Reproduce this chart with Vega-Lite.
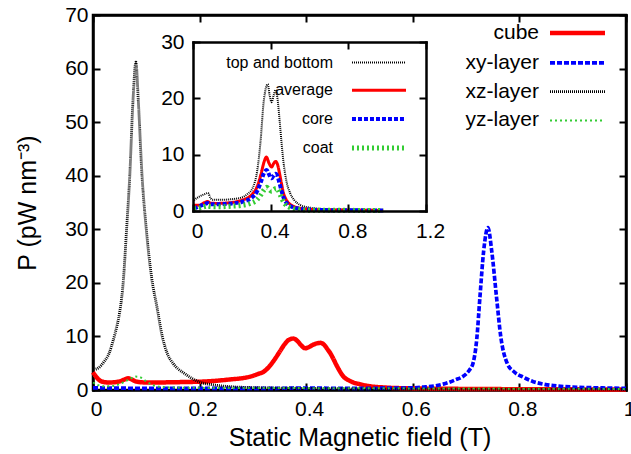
{
  "$schema": "https://vega.github.io/schema/vega-lite/v6.json",
  "width": 533,
  "height": 375,
  "autosize": {"type": "none"},
  "padding": {"left": 93, "top": 15, "right": 5, "bottom": 64},
  "background": "white",
  "config": {
    "font": "Liberation Sans",
    "view": {"stroke": "black", "strokeWidth": 2.5},
    "axis": {
      "domainColor": "black", "domainWidth": 2.5, "domainCap": "square",
      "tickColor": "black", "tickWidth": 2, "tickSize": -7,
      "grid": false,
      "labelFont": "Liberation Sans", "labelFontSize": 21, "labelColor": "black",
      "titleFont": "Liberation Sans", "titleFontSize": 25, "titleColor": "black", "titleFontWeight": "normal",
      "labelFlush": false, "labelOverlap": false
    },
    "legend": {"labelFont": "Liberation Sans", "labelColor": "black"}
  },
  "datasets": {
    "main": [
      {"series": "cube", "B": 0.000, "P": 3.3},
      {"series": "cube", "B": 0.005, "P": 2.6},
      {"series": "cube", "B": 0.010, "P": 2.0},
      {"series": "cube", "B": 0.020, "P": 1.5},
      {"series": "cube", "B": 0.030, "P": 1.4},
      {"series": "cube", "B": 0.040, "P": 1.45},
      {"series": "cube", "B": 0.050, "P": 1.6},
      {"series": "cube", "B": 0.060, "P": 2.0},
      {"series": "cube", "B": 0.066, "P": 2.2},
      {"series": "cube", "B": 0.072, "P": 2.0},
      {"series": "cube", "B": 0.080, "P": 1.6},
      {"series": "cube", "B": 0.090, "P": 1.45},
      {"series": "cube", "B": 0.100, "P": 1.4},
      {"series": "cube", "B": 0.120, "P": 1.4},
      {"series": "cube", "B": 0.150, "P": 1.45},
      {"series": "cube", "B": 0.180, "P": 1.5},
      {"series": "cube", "B": 0.200, "P": 1.55},
      {"series": "cube", "B": 0.220, "P": 1.65},
      {"series": "cube", "B": 0.240, "P": 1.8},
      {"series": "cube", "B": 0.260, "P": 2.0},
      {"series": "cube", "B": 0.280, "P": 2.2},
      {"series": "cube", "B": 0.295, "P": 2.5},
      {"series": "cube", "B": 0.310, "P": 3.0},
      {"series": "cube", "B": 0.320, "P": 3.4},
      {"series": "cube", "B": 0.330, "P": 4.3},
      {"series": "cube", "B": 0.340, "P": 5.6},
      {"series": "cube", "B": 0.350, "P": 7.1},
      {"series": "cube", "B": 0.360, "P": 8.6},
      {"series": "cube", "B": 0.368, "P": 9.4},
      {"series": "cube", "B": 0.376, "P": 9.6},
      {"series": "cube", "B": 0.383, "P": 9.2},
      {"series": "cube", "B": 0.390, "P": 8.4},
      {"series": "cube", "B": 0.398, "P": 7.8},
      {"series": "cube", "B": 0.405, "P": 8.0},
      {"series": "cube", "B": 0.412, "P": 8.4},
      {"series": "cube", "B": 0.420, "P": 8.7},
      {"series": "cube", "B": 0.427, "P": 8.8},
      {"series": "cube", "B": 0.434, "P": 8.4},
      {"series": "cube", "B": 0.440, "P": 7.6},
      {"series": "cube", "B": 0.445, "P": 6.9},
      {"series": "cube", "B": 0.450, "P": 6.0},
      {"series": "cube", "B": 0.457, "P": 4.6},
      {"series": "cube", "B": 0.465, "P": 3.2},
      {"series": "cube", "B": 0.470, "P": 2.5},
      {"series": "cube", "B": 0.480, "P": 1.8},
      {"series": "cube", "B": 0.490, "P": 1.35},
      {"series": "cube", "B": 0.500, "P": 1.1},
      {"series": "cube", "B": 0.520, "P": 0.7},
      {"series": "cube", "B": 0.550, "P": 0.45},
      {"series": "cube", "B": 0.600, "P": 0.3},
      {"series": "cube", "B": 0.700, "P": 0.2},
      {"series": "cube", "B": 0.800, "P": 0.15},
      {"series": "cube", "B": 0.900, "P": 0.12},
      {"series": "cube", "B": 1.000, "P": 0.1},

      {"series": "xy-layer", "B": 0.00, "P": 0.4},
      {"series": "xy-layer", "B": 0.05, "P": 0.35},
      {"series": "xy-layer", "B": 0.10, "P": 0.3},
      {"series": "xy-layer", "B": 0.20, "P": 0.3},
      {"series": "xy-layer", "B": 0.30, "P": 0.3},
      {"series": "xy-layer", "B": 0.40, "P": 0.35},
      {"series": "xy-layer", "B": 0.50, "P": 0.3},
      {"series": "xy-layer", "B": 0.55, "P": 0.35},
      {"series": "xy-layer", "B": 0.60, "P": 0.4},
      {"series": "xy-layer", "B": 0.62, "P": 0.55},
      {"series": "xy-layer", "B": 0.64, "P": 0.75},
      {"series": "xy-layer", "B": 0.657, "P": 1.1},
      {"series": "xy-layer", "B": 0.67, "P": 1.5},
      {"series": "xy-layer", "B": 0.68, "P": 1.9},
      {"series": "xy-layer", "B": 0.692, "P": 2.4},
      {"series": "xy-layer", "B": 0.70, "P": 3.0},
      {"series": "xy-layer", "B": 0.706, "P": 3.7},
      {"series": "xy-layer", "B": 0.713, "P": 5.0},
      {"series": "xy-layer", "B": 0.720, "P": 9.5},
      {"series": "xy-layer", "B": 0.726, "P": 17.4},
      {"series": "xy-layer", "B": 0.733, "P": 26.0},
      {"series": "xy-layer", "B": 0.741, "P": 30.3},
      {"series": "xy-layer", "B": 0.748, "P": 26.0},
      {"series": "xy-layer", "B": 0.757, "P": 17.4},
      {"series": "xy-layer", "B": 0.765, "P": 10.0},
      {"series": "xy-layer", "B": 0.777, "P": 5.0},
      {"series": "xy-layer", "B": 0.790, "P": 3.4},
      {"series": "xy-layer", "B": 0.807, "P": 2.4},
      {"series": "xy-layer", "B": 0.825, "P": 1.6},
      {"series": "xy-layer", "B": 0.845, "P": 1.1},
      {"series": "xy-layer", "B": 0.870, "P": 0.75},
      {"series": "xy-layer", "B": 0.900, "P": 0.55},
      {"series": "xy-layer", "B": 0.950, "P": 0.4},
      {"series": "xy-layer", "B": 1.000, "P": 0.3},

      {"series": "xz-layer", "B": 0.005, "P": 3.9},
      {"series": "xz-layer", "B": 0.010, "P": 4.1},
      {"series": "xz-layer", "B": 0.020, "P": 5.2},
      {"series": "xz-layer", "B": 0.030, "P": 6.8},
      {"series": "xz-layer", "B": 0.038, "P": 9.3},
      {"series": "xz-layer", "B": 0.045, "P": 12.0},
      {"series": "xz-layer", "B": 0.050, "P": 14.5},
      {"series": "xz-layer", "B": 0.057, "P": 20.5},
      {"series": "xz-layer", "B": 0.063, "P": 30.0},
      {"series": "xz-layer", "B": 0.069, "P": 40.0},
      {"series": "xz-layer", "B": 0.075, "P": 54.0},
      {"series": "xz-layer", "B": 0.0805, "P": 61.2},
      {"series": "xz-layer", "B": 0.085, "P": 54.0},
      {"series": "xz-layer", "B": 0.092, "P": 40.0},
      {"series": "xz-layer", "B": 0.100, "P": 30.0},
      {"series": "xz-layer", "B": 0.110, "P": 21.0},
      {"series": "xz-layer", "B": 0.120, "P": 15.5},
      {"series": "xz-layer", "B": 0.130, "P": 10.0},
      {"series": "xz-layer", "B": 0.139, "P": 6.9},
      {"series": "xz-layer", "B": 0.150, "P": 5.0},
      {"series": "xz-layer", "B": 0.160, "P": 3.9},
      {"series": "xz-layer", "B": 0.170, "P": 3.2},
      {"series": "xz-layer", "B": 0.185, "P": 2.2},
      {"series": "xz-layer", "B": 0.200, "P": 1.5},
      {"series": "xz-layer", "B": 0.230, "P": 0.9},
      {"series": "xz-layer", "B": 0.260, "P": 0.6},
      {"series": "xz-layer", "B": 0.300, "P": 0.45},
      {"series": "xz-layer", "B": 0.400, "P": 0.3},
      {"series": "xz-layer", "B": 0.500, "P": 0.2},
      {"series": "xz-layer", "B": 0.600, "P": 0.15},
      {"series": "xz-layer", "B": 0.800, "P": 0.12},
      {"series": "xz-layer", "B": 1.000, "P": 0.1},

      {"series": "yz-layer", "B": 0.000, "P": 1.4},
      {"series": "yz-layer", "B": 0.010, "P": 0.9},
      {"series": "yz-layer", "B": 0.020, "P": 0.7},
      {"series": "yz-layer", "B": 0.030, "P": 0.7},
      {"series": "yz-layer", "B": 0.040, "P": 0.8},
      {"series": "yz-layer", "B": 0.050, "P": 1.1},
      {"series": "yz-layer", "B": 0.060, "P": 1.6},
      {"series": "yz-layer", "B": 0.070, "P": 2.1},
      {"series": "yz-layer", "B": 0.080, "P": 2.5},
      {"series": "yz-layer", "B": 0.088, "P": 2.4},
      {"series": "yz-layer", "B": 0.095, "P": 2.0},
      {"series": "yz-layer", "B": 0.100, "P": 1.6},
      {"series": "yz-layer", "B": 0.110, "P": 1.0},
      {"series": "yz-layer", "B": 0.120, "P": 0.7},
      {"series": "yz-layer", "B": 0.140, "P": 0.5},
      {"series": "yz-layer", "B": 0.200, "P": 0.4},
      {"series": "yz-layer", "B": 0.400, "P": 0.35},
      {"series": "yz-layer", "B": 0.600, "P": 0.3},
      {"series": "yz-layer", "B": 0.800, "P": 0.25},
      {"series": "yz-layer", "B": 1.000, "P": 0.2}
    ],
    "inset": [
      {"series": "top and bottom", "B": 0.005, "P": 1.9},
      {"series": "top and bottom", "B": 0.02, "P": 2.3},
      {"series": "top and bottom", "B": 0.04, "P": 2.7},
      {"series": "top and bottom", "B": 0.06, "P": 3.0},
      {"series": "top and bottom", "B": 0.077, "P": 3.2},
      {"series": "top and bottom", "B": 0.09, "P": 2.3},
      {"series": "top and bottom", "B": 0.10, "P": 2.0},
      {"series": "top and bottom", "B": 0.15, "P": 2.0},
      {"series": "top and bottom", "B": 0.20, "P": 2.1},
      {"series": "top and bottom", "B": 0.25, "P": 2.4},
      {"series": "top and bottom", "B": 0.28, "P": 3.0},
      {"series": "top and bottom", "B": 0.31, "P": 4.3},
      {"series": "top and bottom", "B": 0.33, "P": 7.0},
      {"series": "top and bottom", "B": 0.347, "P": 12.0},
      {"series": "top and bottom", "B": 0.365, "P": 19.7},
      {"series": "top and bottom", "B": 0.385, "P": 22.5},
      {"series": "top and bottom", "B": 0.395, "P": 20.5},
      {"series": "top and bottom", "B": 0.405, "P": 19.3},
      {"series": "top and bottom", "B": 0.415, "P": 20.5},
      {"series": "top and bottom", "B": 0.425, "P": 21.5},
      {"series": "top and bottom", "B": 0.435, "P": 20.0},
      {"series": "top and bottom", "B": 0.445, "P": 16.5},
      {"series": "top and bottom", "B": 0.455, "P": 12.5},
      {"series": "top and bottom", "B": 0.465, "P": 9.0},
      {"series": "top and bottom", "B": 0.48, "P": 5.5},
      {"series": "top and bottom", "B": 0.50, "P": 3.2},
      {"series": "top and bottom", "B": 0.52, "P": 2.0},
      {"series": "top and bottom", "B": 0.55, "P": 1.1},
      {"series": "top and bottom", "B": 0.60, "P": 0.6},
      {"series": "top and bottom", "B": 0.65, "P": 0.4},
      {"series": "top and bottom", "B": 0.70, "P": 0.3},
      {"series": "top and bottom", "B": 0.80, "P": 0.25},
      {"series": "top and bottom", "B": 0.90, "P": 0.2},
      {"series": "top and bottom", "B": 0.98, "P": 0.2},

      {"series": "average", "B": 0.005, "P": 1.0},
      {"series": "average", "B": 0.03, "P": 1.0},
      {"series": "average", "B": 0.06, "P": 1.5},
      {"series": "average", "B": 0.075, "P": 1.7},
      {"series": "average", "B": 0.09, "P": 1.4},
      {"series": "average", "B": 0.12, "P": 1.35},
      {"series": "average", "B": 0.20, "P": 1.5},
      {"series": "average", "B": 0.25, "P": 1.9},
      {"series": "average", "B": 0.30, "P": 2.8},
      {"series": "average", "B": 0.33, "P": 4.3},
      {"series": "average", "B": 0.35, "P": 6.5},
      {"series": "average", "B": 0.365, "P": 8.6},
      {"series": "average", "B": 0.378, "P": 9.6},
      {"series": "average", "B": 0.39, "P": 8.6},
      {"series": "average", "B": 0.405, "P": 7.8},
      {"series": "average", "B": 0.415, "P": 8.4},
      {"series": "average", "B": 0.425, "P": 8.8},
      {"series": "average", "B": 0.435, "P": 8.3},
      {"series": "average", "B": 0.445, "P": 6.8},
      {"series": "average", "B": 0.455, "P": 5.0},
      {"series": "average", "B": 0.465, "P": 3.3},
      {"series": "average", "B": 0.48, "P": 2.0},
      {"series": "average", "B": 0.50, "P": 1.2},
      {"series": "average", "B": 0.55, "P": 0.5},
      {"series": "average", "B": 0.60, "P": 0.3},
      {"series": "average", "B": 0.70, "P": 0.2},
      {"series": "average", "B": 0.80, "P": 0.15},
      {"series": "average", "B": 0.90, "P": 0.12},
      {"series": "average", "B": 0.98, "P": 0.1},

      {"series": "core", "B": 0.005, "P": 0.4},
      {"series": "core", "B": 0.03, "P": 0.8},
      {"series": "core", "B": 0.06, "P": 1.2},
      {"series": "core", "B": 0.075, "P": 1.4},
      {"series": "core", "B": 0.09, "P": 1.2},
      {"series": "core", "B": 0.12, "P": 1.2},
      {"series": "core", "B": 0.20, "P": 1.35},
      {"series": "core", "B": 0.25, "P": 1.6},
      {"series": "core", "B": 0.30, "P": 2.3},
      {"series": "core", "B": 0.33, "P": 3.5},
      {"series": "core", "B": 0.35, "P": 5.2},
      {"series": "core", "B": 0.365, "P": 6.7},
      {"series": "core", "B": 0.38, "P": 7.3},
      {"series": "core", "B": 0.39, "P": 6.6},
      {"series": "core", "B": 0.405, "P": 5.8},
      {"series": "core", "B": 0.415, "P": 6.3},
      {"series": "core", "B": 0.425, "P": 6.6},
      {"series": "core", "B": 0.435, "P": 6.2},
      {"series": "core", "B": 0.445, "P": 5.0},
      {"series": "core", "B": 0.455, "P": 3.7},
      {"series": "core", "B": 0.465, "P": 2.5},
      {"series": "core", "B": 0.48, "P": 1.5},
      {"series": "core", "B": 0.50, "P": 0.9},
      {"series": "core", "B": 0.55, "P": 0.4},
      {"series": "core", "B": 0.60, "P": 0.25},
      {"series": "core", "B": 0.70, "P": 0.15},
      {"series": "core", "B": 0.98, "P": 0.1},

      {"series": "coat", "B": 0.005, "P": 0.4},
      {"series": "coat", "B": 0.03, "P": 0.5},
      {"series": "coat", "B": 0.06, "P": 0.8},
      {"series": "coat", "B": 0.075, "P": 0.9},
      {"series": "coat", "B": 0.09, "P": 0.8},
      {"series": "coat", "B": 0.12, "P": 0.75},
      {"series": "coat", "B": 0.20, "P": 0.85},
      {"series": "coat", "B": 0.25, "P": 1.0},
      {"series": "coat", "B": 0.30, "P": 1.4},
      {"series": "coat", "B": 0.33, "P": 2.0},
      {"series": "coat", "B": 0.35, "P": 2.9},
      {"series": "coat", "B": 0.365, "P": 3.7},
      {"series": "coat", "B": 0.38, "P": 4.2},
      {"series": "coat", "B": 0.39, "P": 3.9},
      {"series": "coat", "B": 0.405, "P": 3.5},
      {"series": "coat", "B": 0.415, "P": 3.8},
      {"series": "coat", "B": 0.43, "P": 4.0},
      {"series": "coat", "B": 0.44, "P": 3.6},
      {"series": "coat", "B": 0.45, "P": 2.8},
      {"series": "coat", "B": 0.46, "P": 2.0},
      {"series": "coat", "B": 0.475, "P": 1.2},
      {"series": "coat", "B": 0.50, "P": 0.6},
      {"series": "coat", "B": 0.55, "P": 0.25},
      {"series": "coat", "B": 0.60, "P": 0.15},
      {"series": "coat", "B": 0.98, "P": 0.1}
    ]
  },
  "layer": [
    {
      "data": {"name": "main"},
      "mark": {"type": "line", "interpolate": "monotone", "strokeJoin": "round"},
      "encoding": {
        "x": {
          "field": "B", "type": "quantitative",
          "scale": {"domain": [0, 1], "nice": false, "zero": false},
          "axis": {"orient": "bottom", "values": [0, 0.2, 0.4, 0.6, 0.8, 1], "format": "~g", "labelPadding": 15, "labelOffset": 3,
                   "title": "Static Magnetic field (T)", "titleBaseline": "alphabetic", "titleY": 55}
        },
        "y": {
          "field": "P", "type": "quantitative",
          "scale": {"domain": [0, 70], "nice": false},
          "axis": {"orient": "left", "values": [0, 10, 20, 30, 40, 50, 60, 70], "labelPadding": 12,
                   "title": "P (pW nm⁻³)", "titleX": -66, "titleY": 187.5, "titleAngle": 270, "titleAlign": "center", "titleBaseline": "middle"}
        },
        "color": {
          "field": "series", "type": "nominal",
          "scale": {"domain": ["cube", "xy-layer", "xz-layer", "yz-layer"], "range": ["#ff0000", "#0000ff", "#000000", "#33cc33"]},
          "legend": {"orient": "none", "legendX": 471, "legendY": 4.5, "title": null, "symbolType": "M-2.5,0H2.5", "symbolSize": 484,
                     "labelAlign": "right", "labelOffset": -52, "rowPadding": 6.3, "labelFontSize": 21, "padding": 0}
        },
        "strokeDash": {
          "field": "series", "type": "nominal",
          "scale": {"domain": ["cube", "xy-layer", "xz-layer", "yz-layer"], "range": [[1, 0], [5, 2], [1, 1], [2, 3]]}
        },
        "strokeWidth": {
          "field": "series", "type": "nominal",
          "scale": {"domain": ["cube", "xy-layer", "xz-layer", "yz-layer"], "range": [4.5, 2, 2, 2]}
        }
      }
    },
    {
      "data": {"name": "main"},
      "mark": {"type": "point", "opacity": 0},
      "encoding": {
        "x": {"field": "B", "type": "quantitative", "scale": {"domain": [0, 1], "nice": false, "zero": false},
              "axis": {"orient": "top", "values": [0, 0.2, 0.4, 0.6, 0.8, 1], "labels": false, "title": null}},
        "y": {"field": "P", "type": "quantitative", "scale": {"domain": [0, 70], "nice": false},
              "axis": {"orient": "right", "values": [0, 10, 20, 30, 40, 50, 60, 70], "labels": false, "title": null}}
      }
    },
    {
      "data": {"name": "inset"},
      "mark": {"type": "line", "interpolate": "monotone", "strokeJoin": "round"},
      "encoding": {
        "x": {
          "field": "B", "type": "quantitative",
          "scale": {"domain": [0, 1.2], "range": [100, 333], "nice": false, "zero": false},
          "axis": {"orient": "bottom", "offset": -179, "values": [0, 0.4, 0.8, 1.2], "format": "~g", "labelPadding": 16, "labelOffset": 4, "title": null, "zindex": 1}
        },
        "y": {
          "field": "P", "type": "quantitative",
          "scale": {"domain": [0, 30], "range": [196, 27], "nice": false},
          "axis": {"orient": "left", "offset": -100, "values": [0, 10, 20, 30], "labelPadding": 16, "title": null, "zindex": 1}
        },
        "color": {
          "field": "series", "type": "nominal",
          "scale": {"domain": ["top and bottom", "average", "core", "coat"], "range": ["#000000", "#ff0000", "#0000ff", "#33cc33"]},
          "legend": {"orient": "none", "legendX": 272.5, "legendY": 35.5, "title": null, "symbolType": "M-2.5,0H2.5", "symbolSize": 467,
                     "labelAlign": "right", "labelOffset": -59.5, "rowPadding": 7.3, "labelFontSize": 16, "padding": 0}
        },
        "strokeDash": {
          "field": "series", "type": "nominal",
          "scale": {"domain": ["top and bottom", "average", "core", "coat"], "range": [[1, 1], [1, 0], [4, 2], [2, 3]]}
        },
        "strokeWidth": {
          "field": "series", "type": "nominal",
          "scale": {"domain": ["top and bottom", "average", "core", "coat"], "range": [2, 5, 3, 2.5]}
        }
      }
    },
    {
      "data": {"name": "inset"},
      "mark": {"type": "point", "opacity": 0},
      "encoding": {
        "x": {"field": "B", "type": "quantitative", "scale": {"domain": [0, 1.2], "range": [100, 333], "nice": false, "zero": false},
              "axis": {"orient": "top", "offset": -27, "values": [0, 0.4, 0.8, 1.2], "labels": false, "title": null, "zindex": 1}},
        "y": {"field": "P", "type": "quantitative", "scale": {"domain": [0, 30], "range": [196, 27], "nice": false},
              "axis": {"orient": "right", "offset": -200, "values": [0, 10, 20, 30], "labels": false, "title": null, "zindex": 1}}
      }
    }
  ],
  "resolve": {
    "scale": {"x": "independent", "y": "independent", "color": "independent", "strokeDash": "independent", "strokeWidth": "independent"},
    "axis": {"x": "independent", "y": "independent"},
    "legend": {"color": "independent", "strokeDash": "independent", "strokeWidth": "independent"}
  }
}
